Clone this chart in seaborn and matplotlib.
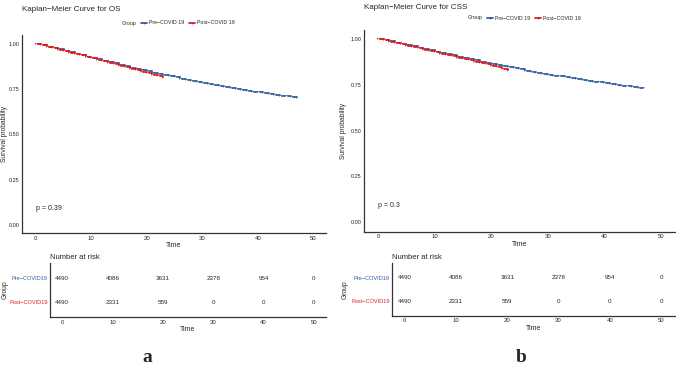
import numpy as np
import pandas as pd
import matplotlib
matplotlib.use("Agg")
import matplotlib.pyplot as plt
import seaborn as sns

# survival estimates (monthly)
os_pre = [1.000, 0.994, 0.986, 0.978, 0.970, 0.962, 0.955, 0.947, 0.939, 0.931,
          0.923, 0.916, 0.908, 0.900, 0.893, 0.885, 0.878, 0.870, 0.863, 0.856,
          0.849, 0.842, 0.835, 0.828, 0.821, 0.815, 0.808, 0.802, 0.796, 0.790,
          0.784, 0.778, 0.773, 0.767, 0.762, 0.757, 0.752, 0.747, 0.742, 0.737,
          0.733, 0.728, 0.724, 0.719, 0.715, 0.711, 0.707, 0.703]
os_post = [1.000, 0.993, 0.985, 0.977, 0.969, 0.961, 0.953, 0.945, 0.937, 0.929,
           0.921, 0.912, 0.904, 0.896, 0.888, 0.880, 0.872, 0.864, 0.856, 0.848,
           0.840, 0.831, 0.822, 0.812]
css_pre = [1.000, 0.995, 0.988, 0.981, 0.974, 0.967, 0.960, 0.953, 0.946, 0.939,
           0.932, 0.925, 0.918, 0.911, 0.904, 0.897, 0.890, 0.884, 0.877, 0.871,
           0.864, 0.858, 0.852, 0.846, 0.840, 0.834, 0.828, 0.822, 0.817, 0.811,
           0.806, 0.801, 0.796, 0.791, 0.786, 0.781, 0.776, 0.772, 0.767, 0.763,
           0.759, 0.754, 0.750, 0.746, 0.742, 0.738, 0.734, 0.730]
css_post = [1.000, 0.994, 0.986, 0.978, 0.971, 0.964, 0.956, 0.949, 0.942, 0.935,
            0.928, 0.920, 0.913, 0.906, 0.898, 0.891, 0.884, 0.877, 0.870, 0.862,
            0.855, 0.847, 0.838, 0.828]

risk_times = [0, 10, 20, 30, 40, 50]
risk_pre = [4490, 4086, 3631, 2378, 954, 0]
risk_post = [4490, 2331, 559, 0, 0, 0]

groups = ["Pre-COVID 19", "Post-COVID 19"]
table_labels = ["Pre\u2212COVID19", "Post\u2212COVID19"]
legend_labels = ["Pre\u2212COVID 19", "Post\u2212COVID 19"]
colors = {"Pre-COVID 19": "#2E5E9E", "Post-COVID 19": "#E41A1C"}

sns.set_style("white")
plt.rcParams["font.family"] = ["Liberation Sans", "DejaVu Sans"]

W, H = 676, 373
fig = plt.figure(figsize=(W / 100, H / 100), dpi=100)


def box(x0, y0, x1, y1):
    # pixel box -> figure fraction
    return [x0 / W, 1 - y1 / H, (x1 - x0) / W, (y1 - y0) / H]


def style_axis(ax, ysize=4.0):
    sns.despine(ax=ax)
    for s in ["left", "bottom"]:
        ax.spines[s].set_linewidth(0.9)
        ax.spines[s].set_color("#333333")
    ax.tick_params(axis="both", length=1.2, width=0.5, labelsize=4.3, pad=0.6, color="#333333")
    ax.tick_params(axis="y", labelsize=ysize)


def km_panel(main_box, table_box, pre, post, title, ptxt, xlim_main, ylim_main, xlim_tab,
             letter, letter_x, title_pad, ylab_px, glab_px):
    ax = fig.add_axes(box(*main_box))
    h_px = main_box[3] - main_box[1]
    w_px = main_box[2] - main_box[0]
    df = pd.concat([
        pd.DataFrame({"Time": np.arange(len(pre)), "surv": pre, "Group": groups[0]}),
        pd.DataFrame({"Time": np.arange(len(post)), "surv": post, "Group": groups[1]}),
    ])
    sns.lineplot(data=df, x="Time", y="surv", hue="Group", palette=colors,
                 drawstyle="steps-post", linewidth=1.3, marker="+", markersize=2,
                 markeredgewidth=0.5, ax=ax, legend=False)
    ax.set_xlim(*xlim_main)
    ax.set_ylim(*ylim_main)
    ax.set_xticks([0, 10, 20, 30, 40, 50])
    ax.set_yticks([0, 0.25, 0.5, 0.75, 1.0])
    ax.set_yticklabels(["0.00", "0.25", "0.50", "0.75", "1.00"])
    ax.set_xlabel("Time", fontsize=5, labelpad=1)
    ax.set_ylabel("Survival probability", fontsize=4.8)
    ax.yaxis.set_label_coords((ylab_px - main_box[0]) / w_px, 0.5)
    style_axis(ax)
    ax.text(0, 0.09, ptxt, fontsize=5, ha="left", va="center")
    ax.set_title(title, fontsize=5.8, loc="left", x=0.0, y=1.0, pad=title_pad)

    # legend row with the "Group" title inline
    handles = [plt.Line2D([], [], alpha=0)] + \
        [plt.Line2D([], [], color=colors[g], lw=1.3, marker="+", ms=2, mew=0.5) for g in groups]
    ax.legend(handles, ["Group"] + legend_labels, ncol=3, loc="center",
              bbox_to_anchor=(0.5, 1 + 12 / h_px), frameon=False, fontsize=3.8,
              handlelength=1.2, handletextpad=0.4, columnspacing=0.8, borderaxespad=0)

    # risk table
    tb = fig.add_axes(box(*table_box))
    for x, a, b in zip(risk_times, risk_pre, risk_post):
        tb.text(x, 1, str(a), fontsize=4.5, ha="center", va="center")
        tb.text(x, 0, str(b), fontsize=4.5, ha="center", va="center")
    tb.set_xlim(*xlim_tab)
    tb.set_ylim(-0.625, 1.625)
    tb.set_xticks(risk_times)
    tb.set_yticks([1, 0])
    tb.set_yticklabels(table_labels)
    for lab, g in zip(tb.get_yticklabels(), groups):
        lab.set_color(colors[g])
    tb.set_xlabel("Time", fontsize=5, labelpad=1)
    tb.set_ylabel("Group", fontsize=4.8)
    tb.yaxis.set_label_coords((glab_px - table_box[0]) / (table_box[2] - table_box[0]), 0.5)
    style_axis(tb, ysize=4.1)
    tb.set_title("Number at risk", fontsize=5.5, loc="left", x=0.0, pad=3)

    fig.text(letter_x / W, 1 - 357 / H, letter, fontsize=14, fontweight="bold",
             family="Liberation Serif", ha="center", va="center")


km_panel((22, 35, 326, 233), (50, 263, 326, 317), os_pre, os_post,
         "Kaplan\u2212Meier Curve for OS", "p = 0.39",
         (-2.5, 52.3), (-0.045, 1.05), (-2.4, 52.4), "a", 147, 17, 8, 9)
km_panel((364, 30, 676, 232), (392, 263, 676, 316), css_pre, css_post,
         "Kaplan\u2212Meier Curve for CSS", "p = 0.3",
         (-2.5, 52.7), (-0.055, 1.05), (-2.5, 52.9), "b", 521, 15, 347, 349)

fig.savefig("out.png", dpi=100)
